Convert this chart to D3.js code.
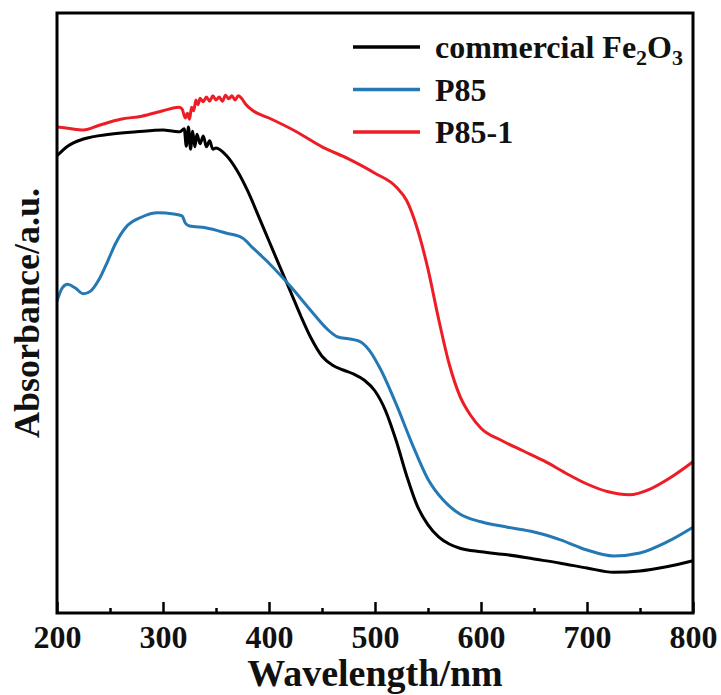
<!DOCTYPE html>
<html>
<head>
<meta charset="utf-8">
<script src="https://cdn.jsdelivr.net/npm/d3@7"></script>
<style>
    body { margin: 0; background: #fff; }
    #chart-area { width: 721px; height: 695px; }
    text { font-family: "Liberation Serif", "Times New Roman", serif; font-weight: bold; fill: #111; }
</style>
</head>
<body>
<div id="chart-area"></div>
<script>

// commercial Fe2O3
let fe2o3Wavelength = [200, 210, 225, 250, 275, 300, 310, 316, 320, 322, 324, 326, 328, 330, 332, 335, 338, 341, 344, 347, 350,
    360, 370, 380, 390, 400, 410, 420, 430, 440, 450, 460, 470, 480, 490, 500, 510, 520, 530, 540, 550, 560, 570, 580,
    600, 625, 650, 675, 700, 725, 750, 775, 800]
let fe2o3Absorbance = [76.2, 77.8, 79.0, 79.8, 80.2, 80.5, 80.3, 80.2, 80.7, 77.8, 81.0, 77.3, 80.3, 77.7, 79.8, 78.2, 79.5, 77.7, 78.7, 77.3, 77.5,
    76.2, 73.7, 70.3, 66.2, 62.0, 57.8, 53.7, 49.5, 45.7, 42.8, 41.3, 40.5, 39.8, 38.8, 37.0, 33.7, 28.7, 22.8, 17.8, 14.7, 12.7, 11.5, 10.8,
    10.2, 9.7, 9.0, 8.3, 7.5, 6.8, 7.0, 7.7, 8.7]

// P85
let p85Wavelength = [200, 205, 210, 217, 225, 232, 240, 248, 255, 265, 280, 295, 310, 318, 321, 325, 340, 360, 375, 385,
    400, 420, 440, 455, 465, 475, 485, 495, 505, 520, 535, 550, 565, 580, 600, 625, 650, 675, 700, 725, 750, 775, 800]
let p85Absorbance = [52.0, 54.2, 54.8, 54.2, 53.2, 53.7, 55.7, 58.7, 61.5, 64.3, 66.0, 66.7, 66.5, 66.2, 65.0, 64.5, 64.2, 63.3, 62.5, 60.8,
    58.3, 54.5, 50.3, 47.3, 46.0, 45.7, 45.3, 43.7, 40.7, 34.8, 28.2, 22.3, 18.7, 16.5, 15.2, 14.3, 13.5, 12.2, 10.5, 9.5, 10.0, 11.8, 14.3]

// P85-1
let p851Wavelength = [200, 210, 225, 240, 260, 280, 300, 315, 318, 321, 323, 325, 327, 329, 331, 333, 335, 338, 341, 344, 347, 350,
    353, 356, 359, 362, 365, 368, 371, 374, 378, 385, 400, 425, 450, 475, 500, 520, 530, 540, 550, 560, 570, 580, 590,
    600, 620, 640, 660, 680, 700, 720, 740, 760, 780, 800]
let p851Absorbance = [81.0, 80.8, 80.5, 81.3, 82.3, 82.8, 83.7, 84.3, 84.0, 82.5, 83.3, 82.3, 84.3, 83.7, 85.5, 84.7, 85.8, 85.2, 86.0, 85.3, 86.2, 85.5,
    86.0, 85.3, 86.3, 85.7, 86.2, 85.5, 86.2, 85.8, 84.8, 83.7, 82.5, 80.3, 77.7, 75.7, 73.3, 71.0, 68.7, 64.0, 57.3, 49.0, 41.5, 36.2, 33.0,
    30.8, 28.7, 27.0, 25.3, 23.3, 21.5, 20.2, 19.7, 20.7, 22.7, 25.2]

let seriesNames = ["commercial Fe2O3", "P85", "P85-1"]
let majorTicks = [200, 300, 400, 500, 600, 700, 800]
let minorTicks = [250, 350, 450, 550, 650, 750]


class SpectraChart {
    constructor(parentElement) {
        this.parentElement = parentElement

        this.series = [
            {name: seriesNames[0], color: "#000000", x: fe2o3Wavelength, y: fe2o3Absorbance},
            {name: seriesNames[1], color: "#2478b4", x: p85Wavelength, y: p85Absorbance},
            {name: seriesNames[2], color: "#ee1c24", x: p851Wavelength, y: p851Absorbance}
        ]

        // zip x / y arrays into point objects
        this.series.forEach(s => {
            s.values = s.x.map((w, i) => ({wavelength: w, absorbance: s.y[i]}))
        })

        this.initVis()
    }

    initVis() {
        let vis = this

        vis.margin = {top: 13, right: 28, bottom: 82, left: 57}
        vis.width = 721 - vis.margin.left - vis.margin.right
        vis.height = 695 - vis.margin.top - vis.margin.bottom

        vis.svg = d3.select("#" + vis.parentElement).append("svg")
            .attr("width", 721)
            .attr("height", 695)
            .append("g")
            .attr("transform", `translate(${vis.margin.left}, ${vis.margin.top})`)

        // scales
        vis.x = d3.scaleLinear()
            .domain([200, 800])
            .range([0, vis.width])

        vis.y = d3.scaleLinear()
            .domain([0, 100])
            .range([vis.height, 0])

        vis.line = d3.line()
            .curve(d3.curveMonotoneX)
            .x(d => vis.x(d.wavelength))
            .y(d => vis.y(d.absorbance))

        // minor + major ticks, pointing inward
        vis.xAxisMinor = d3.axisBottom(vis.x)
            .tickValues(minorTicks)
            .tickSize(-5)
            .tickFormat("")

        vis.xAxis = d3.axisBottom(vis.x)
            .tickValues(majorTicks)
            .tickSize(-11)
            .tickPadding(12)
            .tickFormat(d3.format("d"))

        this.updateVis()
    }

    updateVis() {
        let vis = this

        // curves
        vis.svg.selectAll(".spectrum")
            .data(vis.series)
            .enter().append("path")
            .attr("class", "spectrum")
            .attr("fill", "none")
            .attr("stroke", d => d.color)
            .attr("stroke-width", 3)
            .attr("stroke-linejoin", "round")
            .attr("d", d => vis.line(d.values))

        // frame
        vis.svg.append("rect")
            .attr("width", vis.width)
            .attr("height", vis.height)
            .attr("fill", "none")
            .attr("stroke", "#000")
            .attr("stroke-width", 3)

        let gMinor = vis.svg.append("g")
            .attr("class", "x-axis-minor")
            .attr("transform", "translate(0," + vis.height + ")")
            .call(vis.xAxisMinor)
        gMinor.select(".domain").remove()
        gMinor.selectAll("line").attr("stroke", "#000").attr("stroke-width", 2.5)

        let gX = vis.svg.append("g")
            .attr("class", "x-axis axis")
            .attr("transform", "translate(0," + vis.height + ")")
            .call(vis.xAxis)
        gX.select(".domain").remove()
        gX.selectAll("line").attr("stroke", "#000").attr("stroke-width", 2.5)
        gX.selectAll("text")
            .attr("font-family", "Liberation Serif, Times New Roman, serif")
            .attr("font-weight", "bold")
            .attr("font-size", 32)
            .attr("fill", "#111")

        // axis titles
        vis.svg.append("text")
            .attr("x", vis.width / 2)
            .attr("y", vis.height + 73)
            .attr("text-anchor", "middle")
            .style("font-size", "38px")
            .text("Wavelength/nm")

        vis.svg.append("text")
            .attr("transform", `translate(-18, ${vis.height / 2}) rotate(-90)`)
            .attr("text-anchor", "middle")
            .style("font-size", "36px")
            .text("Absorbance/a.u.")

        // legend
        let legend = vis.svg.append("g")
            .attr("class", "legend")
            .attr("transform", "translate(296, 0)")

        let rows = legend.selectAll(".legend-row")
            .data(vis.series)
            .enter().append("g")
            .attr("class", "legend-row")
            .attr("transform", (d, i) => `translate(0, ${34 + i * 42.5})`)

        rows.append("line")
            .attr("x1", 0)
            .attr("x2", 67)
            .attr("stroke", d => d.color)
            .attr("stroke-width", 3.5)

        let labels = rows.append("text")
            .attr("x", 82)
            .attr("y", 11)
            .style("font-size", "32px")

        labels.each(function(d) {
            let t = d3.select(this)
            if (d.name === "commercial Fe2O3") {
                t.append("tspan").text("commercial Fe")
                t.append("tspan").attr("dy", 7).style("font-size", "22px").text("2")
                t.append("tspan").attr("dy", -7).text("O")
                t.append("tspan").attr("dy", 7).style("font-size", "22px").text("3")
            } else {
                t.text(d.name)
            }
        })
    }
}

let chart = new SpectraChart("chart-area")

</script>
</body>
</html>
